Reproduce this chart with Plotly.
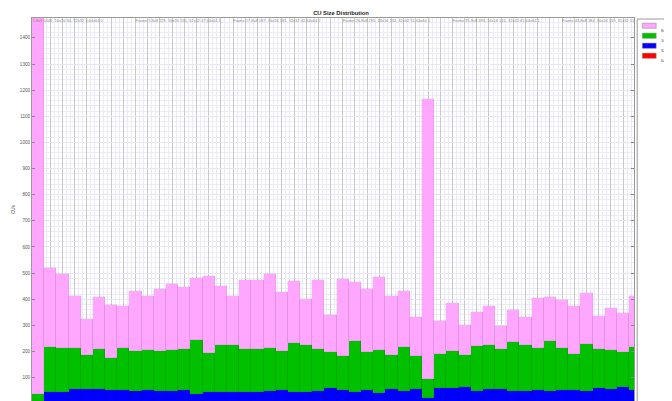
import plotly.graph_objects as go

# CU counts per frame, bottom to top of each stack
cu_64 = [0, 1, 2, 1, 2, 3, 1, 2, 1, 2, 1, 2, 1, 2, 1, 1, 2, 1, 2, 1,
         2, 1, 1, 2, 3, 1, 2, 1, 1, 2, 1, 2, 0, 2, 1, 3, 1, 2, 2, 1,
         1, 2, 1, 2, 1, 1, 2, 2, 1, 1]
cu_32 = [3, 43, 44, 54, 55, 54, 52, 51, 47, 50, 47, 47, 51, 37, 44, 43, 42, 43, 42, 47,
         50, 45, 43, 46, 56, 51, 42, 51, 42, 55, 47, 53, 23, 57, 61, 60, 49, 53, 53, 48,
         48, 50, 48, 51, 53, 48, 57, 56, 64, 53]
cu_16 = [34, 175, 168, 159, 131, 152, 121, 162, 155, 154, 154, 157, 159, 204, 148, 181, 181, 165, 165, 164,
         149, 186, 181, 161, 139, 132, 198, 146, 163, 129, 171, 129, 72, 132, 141, 125, 172, 171, 155, 189,
         175, 160, 190, 159, 137, 180, 150, 148, 132, 163]
cu_8 = [1440, 302, 284, 200, 137, 199, 203, 160, 229, 206, 236, 252, 237, 238, 295, 227, 187, 266, 264, 285,
        226, 236, 175, 265, 141, 295, 223, 240, 280, 226, 213, 148, 1072, 127, 183, 113, 128, 149, 87, 120,
        108, 191, 169, 184, 184, 196, 126, 161, 150, 197]

frames = list(range(len(cu_8)))
series = [("64x64", cu_64, "#ff0000"), ("32x32", cu_32, "#0000ff"),
          ("16x16", cu_16, "#00c000"), ("8x8", cu_8, "#ffa6ff")]
label_bars = [0, 8, 16, 25, 34, 43]

# the page body keeps its default 8px margin, so the figure starts at (8, 8)
OFF = 8
VW, VH = 672, 401
W, H = VW - OFF, VH - OFF
PL, PR, PT = 31.7, 634.3, 18.3  # plot edges in window pixels
FONT = "Liberation Sans, Arial, sans-serif"

fig = go.Figure()
for name, vals, color in series:
    fig.add_trace(go.Bar(
        x=frames, y=vals, name=name, width=1,
        marker=dict(color=color, line=dict(width=0.5, color="rgba(0,0,0,0.12)")),
    ))

# frame summary strings drawn along the top of the plot
texts, xs = [], []
for i in label_bars:
    texts.append("Frame %d,8x8 %d, 16x16 %d, 32x32 %d,64x64 %d"
                 % (i + 1, cu_8[i], cu_16[i], cu_32[i], cu_64[i]))
    xs.append(i - 1.5 if i == 0 else i)
fig.add_trace(go.Scatter(
    x=xs, y=[1464] * len(xs), mode="text", text=texts,
    textposition="middle right", cliponaxis=True, showlegend=False,
    textfont=dict(size=4, color="#8a8a8a", family=FONT), hoverinfo="skip",
))

# hand-made legend box on the right
px = lambda p: (p - PL) / (PR - PL)
py = lambda p: (VH - p) / (VH - PT)
shapes = [dict(type="rect", xref="paper", yref="paper", x0=px(637.5), x1=px(690),
               y0=py(410), y1=py(19.3), line=dict(color="#9a9a9a", width=1),
               fillcolor="white", layer="below")]
annotations = []
for k, (name, vals, color) in enumerate(reversed(series)):
    yc = 26 + k * 10
    shapes.append(dict(type="rect", xref="paper", yref="paper",
                       x0=px(642.7), x1=px(656.5), y0=py(yc + 2.6), y1=py(yc - 2.6),
                       fillcolor=color, line=dict(color="#888888", width=0.5)))
    annotations.append(dict(xref="paper", yref="paper", x=px(659.5), y=py(yc),
                            text=name, showarrow=False, xanchor="left",
                            font=dict(size=4, color="#444444", family=FONT)))

fig.update_layout(
    width=W, height=H,
    margin=dict(l=PL - OFF, r=VW - PR, t=PT - OFF, b=0, autoexpand=False),
    barmode="stack", bargap=0, showlegend=False,
    plot_bgcolor="white", paper_bgcolor="white",
    font=dict(family=FONT, color="#333333"),
    title=dict(text="<b>CU Size Distribution</b>", x=(341 - OFF) / W, xanchor="center",
               xref="container", y=1 - (12.7 - OFF) / H, yanchor="middle", yref="container",
               font=dict(size=5.8, color="#222222")),
    shapes=shapes, annotations=annotations,
)
fig.update_xaxes(
    range=[-0.5, 48.9], showticklabels=False, ticks="",
    showgrid=True, gridcolor="#c8c8c8", gridwidth=1, dtick=1, tick0=0,
    minor=dict(dtick=1 / 3, showgrid=True, gridcolor="#ebe9f8", gridwidth=1),
    showline=True, linecolor="#9a9a9a", linewidth=1, mirror=True, zeroline=False,
)
fig.update_yaxes(
    range=[10.7, 1476], dtick=100, tick0=0,
    ticks="inside", ticklen=3, tickcolor="#8a8a8a",
    tickfont=dict(size=4.6, color="#555555"),
    showgrid=True, gridcolor="#e6e4f6", gridwidth=1,
    minor=dict(dtick=20, showgrid=True, gridcolor="#ecebf9", gridwidth=1),
    showline=True, linecolor="#9a9a9a", linewidth=1, mirror="ticks", zeroline=False,
    title=dict(text="CUs", font=dict(size=4.6, color="#444444"), standoff=4),
    automargin=False,
)

fig.write_html("out.html")
